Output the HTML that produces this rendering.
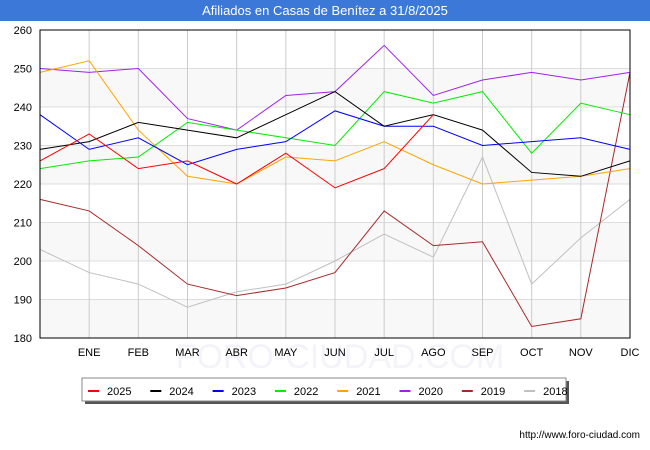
<!DOCTYPE html>
<html><head><meta charset="utf-8"><style>
body{margin:0;background:#fff;font-family:"Liberation Sans",sans-serif}
#wrap{position:relative;width:650px;height:450px;overflow:hidden}
#title{position:absolute;left:0;top:0;width:650px;height:21px;background:#3b78d8;color:#fff;font-size:13px;line-height:21px;text-align:center}
</style></head><body>
<div id="wrap">
<div id="title">Afiliados en Casas de Benítez a 31/8/2025</div>
<svg id="svg" width="650" height="450" style="position:absolute;left:0;top:0"></svg>
</div>
<script>
const months=["","ENE","FEB","MAR","ABR","MAY","JUN","JUL","AGO","SEP","OCT","NOV","DIC"];
const yTicks=[180,190,200,210,220,230,240,250,260];
const seriesNames=["2025","2024","2023","2022","2021","2020","2019","2018"];
const seriesColors=["#ff0000","#000000","#0000ff","#00ee00","#ffa500","#a020f0","#a52a2a","#c0c0c0"];
const s2025=[226,233,224,226,220,228,219,224,238];
const s2024=[229,231,236,234,232,238,244,235,238,234,223,222,226];
const s2023=[238,229,232,225,229,231,239,235,235,230,231,232,229];
const s2022=[224,226,227,236,234,232,230,244,241,244,228,241,238];
const s2021=[249,252,234,222,220,227,226,231,225,220,221,222,224];
const s2020=[250,249,250,237,234,243,244,256,243,247,249,247,249];
const s2019=[216,213,204,194,191,193,197,213,204,205,183,185,249];
const s2018=[203,197,194,188,192,194,200,207,201,227,194,206,216];
const allSeries=[s2025,s2024,s2023,s2022,s2021,s2020,s2019,s2018];
const L=40,R=630,T=30,B=338,ymin=180,ymax=260;
const NS="http://www.w3.org/2000/svg";
const svg=document.getElementById('svg');
const xs=i=>L+(R-L)*i/(months.length-1);
const ys=v=>B-(v-ymin)/(ymax-ymin)*(B-T);
function mk(t,a,p){const e=document.createElementNS(NS,t);for(const k in a)e.setAttribute(k,a[k]);(p||svg).appendChild(e);return e;}
const wm=mk('text',{x:340,y:368,'text-anchor':'middle','font-size':34,fill:'#f3f3f9','font-family':'Liberation Sans, sans-serif'});
wm.textContent='FORO-CIUDAD.COM';


for(let i=0;i<yTicks.length-1;i+=2){
 const e=mk('rect',{x:L,y:ys(yTicks[i+1]),width:R-L,height:ys(yTicks[i])-ys(yTicks[i+1]),fill:'#f8f8f8'});
 
 
}
yTicks.forEach(v=>{
 const g=mk('line',{x1:L,x2:R,y1:ys(v),y2:ys(v),stroke:'#dddddd','stroke-width':1});
 
 
 const t=mk('text',{x:L-8,y:ys(v)+4,'text-anchor':'end','font-size':11,fill:'#000','font-family':'Liberation Sans, sans-serif'});
 t.textContent=v;
 
 
});
months.forEach((m,i)=>{
 const g=mk('line',{x1:xs(i),x2:xs(i),y1:T,y2:B,stroke:'#cccccc','stroke-width':1});
 
 
 if(m){const t=mk('text',{x:xs(i),y:356,'text-anchor':'middle','font-size':11,fill:'#000','font-family':'Liberation Sans, sans-serif'});
 t.textContent=m;
 
 }
});
for(let k=allSeries.length-1;k>=0;k--){
 const pts=allSeries[k].map((v,i)=>xs(i)+','+ys(v)).join(' ');
 const p=mk('polyline',{points:pts,fill:'none',stroke:seriesColors[k],'stroke-width':1});
 
 
}
const fr=mk('rect',{x:L,y:T,width:R-L,height:B-T,fill:'none',stroke:'#000','stroke-width':1});


const lg=mk('g',{});


mk('rect',{x:85,y:381,width:484,height:23,fill:'#555'},lg);
mk('rect',{x:82,y:378,width:484,height:23,fill:'#fff',stroke:'#888'},lg);
seriesNames.forEach((n,k)=>{
 const x0=88+k*62.3;
 const g=mk('g',{},lg);
 
 
 mk('line',{x1:x0,x2:x0+11,y1:391,y2:391,stroke:seriesColors[k],'stroke-width':2},g);
 const t=mk('text',{x:x0+19,y:395,'font-size':11,fill:'#000','font-family':'Liberation Sans, sans-serif'},g);
 t.textContent=n;
});
const url=mk('text',{x:640,y:438,'text-anchor':'end','font-size':10,fill:'#000','font-family':'Liberation Sans, sans-serif'});
url.textContent='http://www.foro-ciudad.com';


</script>
</body></html>
